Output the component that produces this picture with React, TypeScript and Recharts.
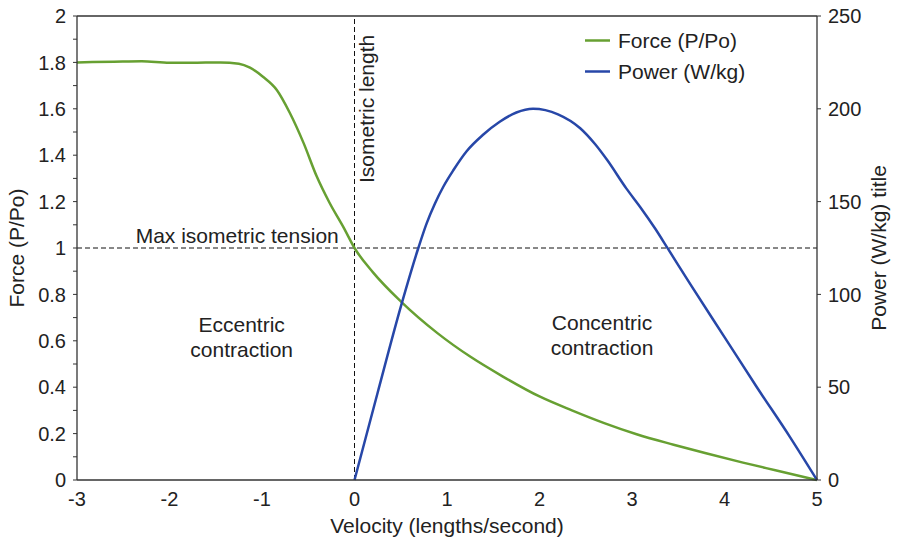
import React from 'react';
import {
  LineChart, Line, XAxis, YAxis, ReferenceLine, ReferenceDot, Legend, Label,
} from 'recharts';

const forceX = [-3, -2.6, -2.3, -2.0, -1.7, -1.45, -1.25, -1.13, -0.99, -0.84, -0.7, -0.55, -0.41, -0.27, -0.12, 0, 0.2, 0.5, 0.9, 1.25, 1.6, 2.0, 2.35, 2.7, 3.05, 3.45, 3.8, 4.2, 4.55, 5];
const forceY = [1.8, 1.803, 1.805, 1.798, 1.799, 1.8, 1.794, 1.777, 1.738, 1.681, 1.583, 1.452, 1.31, 1.195, 1.09, 1.0, 0.895, 0.77, 0.632, 0.532, 0.447, 0.36, 0.3, 0.245, 0.197, 0.152, 0.115, 0.075, 0.042, 0];

const powerX = [0, 0.25, 0.51, 0.69, 0.78, 0.87, 0.96, 1.07, 1.21, 1.39, 1.57, 1.75, 1.93, 2.2, 2.44, 2.6, 2.73, 2.94, 3.09, 3.25, 3.39, 3.63, 4.0, 4.35, 4.71, 5];
const powerY = [0, 47, 95, 125, 138.3, 149, 158, 167, 177, 186, 193, 198, 200, 197, 189.5, 181, 172.5, 157, 147, 135.5, 124.5, 105.5, 77, 50, 23, 0];

const xTicks = [-3, -2, -1, 0, 1, 2, 3, 4, 5];
const forceTicks = [0, 0.1, 0.2, 0.3, 0.4, 0.5, 0.6, 0.7, 0.8, 0.9, 1, 1.1, 1.2, 1.3, 1.4, 1.5, 1.6, 1.7, 1.8, 1.9, 2];
const powerTicks = [0, 50, 100, 150, 200, 250];

const seriesNames = ['Force (P/Po)', 'Power (W/kg)'];
const axisTitles = ['Velocity (lengths/second)', 'Force (P/Po)', 'Power (W/kg) title'];
const annotations = {
  tension: 'Max isometric tension',
  length: 'Isometric length',
  eccentric: ['Eccentric', 'contraction'],
  concentric: ['Concentric', 'contraction'],
};

// merge into one table
const rowMap = new Map<number, any>();
forceX.forEach((x, i) => {
  rowMap.set(x, { ...(rowMap.get(x) || { x }), force: forceY[i] });
});
powerX.forEach((x, i) => {
  rowMap.set(x, { ...(rowMap.get(x) || { x }), power: powerY[i] });
});
const data = Array.from(rowMap.values()).sort((a, b) => a.x - b.x);

const FONT = '"Liberation Sans", Arial, Helvetica, sans-serif';
const TXT = '#222';
const GREEN = '#67a032';
const BLUE = '#2747a8';
const AXIS = '#333';

const fmtForce = (v: number) => (Math.round(v * 10) % 2 === 0 ? String(Math.round(v * 10) / 10) : '');

const LegendContent = (props: any) => {
  const payload = props.payload || [];
  return (
    <svg width={220} height={70} style={{ display: 'block' }}>
      {payload.map((e: any, i: number) => (
        <g key={i}>
          <line x1={5} x2={30} y1={18.5 + i * 31} y2={18.5 + i * 31} stroke={e.color} strokeWidth={2.5} />
          <text x={38} y={26 + i * 31} fontSize={21} fill={TXT} fontFamily={FONT}>{e.value}</text>
        </g>
      ))}
    </svg>
  );
};

const TwoLine = (lines: string[]) => (p: any) => (
  <text x={p.cx} y={p.cy} textAnchor="middle" fontSize={21} fill={TXT} fontFamily={FONT}>
    <tspan x={p.cx} dy={0}>{lines[0]}</tspan>
    <tspan x={p.cx} dy={25}>{lines[1]}</tspan>
  </text>
);

export default function App() {
  return (
    <div style={{ position: 'absolute', left: 0, top: 0, background: '#fff' }}>
      <LineChart width={899} height={544} data={data} margin={{ top: 16, right: 0, bottom: 0, left: 0 }}>
        <XAxis
          dataKey="x"
          type="number"
          domain={[-3, 5]}
          ticks={xTicks}
          tickLine={false}
          tickSize={10}
          tickMargin={2}
          height={64}
          axisLine={{ stroke: AXIS, strokeWidth: 1.3 }}
          tick={{ fontSize: 20, fill: TXT, fontFamily: FONT }}
        >
          <Label
            content={(p: any) => {
              const vb = p.viewBox;
              return (
                <text x={vb.x + vb.width / 2} y={vb.y + 53} textAnchor="middle" fontSize={21} fill={TXT} fontFamily={FONT}>
                  {axisTitles[0]}
                </text>
              );
            }}
          />
        </XAxis>
        <YAxis
          yAxisId="left"
          domain={[0, 2]}
          ticks={forceTicks}
          interval={0}
          tickFormatter={fmtForce}
          width={77}
          tickSize={4}
          tickMargin={7}
          axisLine={{ stroke: AXIS, strokeWidth: 1.3 }}
          tickLine={{ stroke: AXIS }}
          tick={{ fontSize: 20, fill: TXT, fontFamily: FONT }}
        >
          <Label
            content={(p: any) => {
              const vb = p.viewBox;
              const cx = vb.x + 24;
              const cy = vb.y + vb.height / 2;
              return (
                <text x={cx} y={cy} transform={`rotate(-90 ${cx} ${cy})`} textAnchor="middle" fontSize={21} fill={TXT} fontFamily={FONT}>
                  {axisTitles[1]}
                </text>
              );
            }}
          />
        </YAxis>
        <YAxis
          yAxisId="right"
          orientation="right"
          domain={[0, 250]}
          ticks={powerTicks}
          interval={0}
          width={82}
          tickSize={4}
          tickMargin={7}
          axisLine={{ stroke: AXIS, strokeWidth: 1.3 }}
          tickLine={{ stroke: AXIS }}
          tick={{ fontSize: 20, fill: TXT, fontFamily: FONT }}
        >
          <Label
            content={(p: any) => {
              const vb = p.viewBox;
              const cx = vb.x + 69;
              const cy = vb.y + vb.height / 2;
              return (
                <text x={cx} y={cy} transform={`rotate(-90 ${cx} ${cy})`} textAnchor="middle" fontSize={21} fill={TXT} fontFamily={FONT}>
                  {axisTitles[2]}
                </text>
              );
            }}
          />
        </YAxis>

        <ReferenceLine yAxisId="left" y={2} stroke={AXIS} strokeWidth={1.3} />
        <ReferenceLine yAxisId="left" y={1} stroke="#111" strokeWidth={1} strokeDasharray="5 3" />
        <ReferenceLine
          yAxisId="left"
          x={0}
          stroke="#111"
          strokeWidth={1}
          strokeDasharray="5 3"
          label={(p: any) => {
            const vb = p.viewBox;
            const cx = vb.x + 19;
            const cy = vb.y + 167;
            return (
              <text x={cx} y={cy} transform={`rotate(-90 ${cx} ${cy})`} textAnchor="start" fontSize={21} fill={TXT} fontFamily={FONT}>
                {annotations.length}
              </text>
            );
          }}
        />
        <ReferenceDot
          yAxisId="left"
          x={-0.17}
          y={1}
          r={0}
          shape={(p: any) => (
            <text x={p.cx} y={p.cy - 5} textAnchor="end" fontSize={21} fill={TXT} fontFamily={FONT}>
              {annotations.tension}
            </text>
          )}
        />
        <ReferenceDot yAxisId="left" x={-1.22} y={0.638} r={0} shape={TwoLine(annotations.eccentric)} />
        <ReferenceDot yAxisId="left" x={2.676} y={0.647} r={0} shape={TwoLine(annotations.concentric)} />

        <Line
          yAxisId="left"
          type="monotone"
          dataKey="force"
          name={seriesNames[0]}
          stroke={GREEN}
          strokeWidth={2.5}
          dot={false}
          connectNulls
          isAnimationActive={false}
        />
        <Line
          yAxisId="right"
          type="monotone"
          dataKey="power"
          name={seriesNames[1]}
          stroke={BLUE}
          strokeWidth={2.5}
          dot={false}
          connectNulls
          isAnimationActive={false}
        />
        <Legend
          layout="horizontal"
          align="center"
          verticalAlign="middle"
          content={<LegendContent />}
          wrapperStyle={{ position: 'absolute', left: 580, top: 22, width: 220, height: 70 }}
        />
      </LineChart>
    </div>
  );
}
